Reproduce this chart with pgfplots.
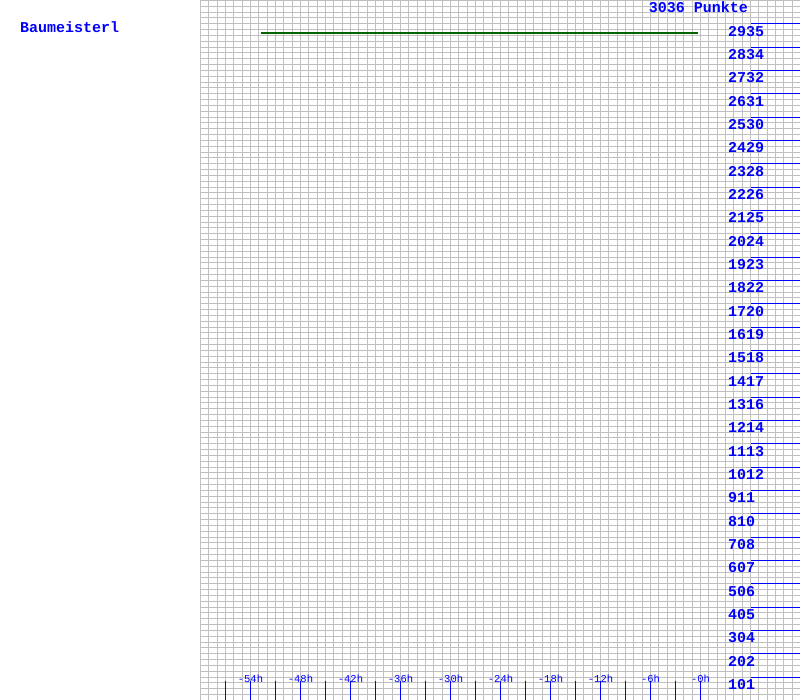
\documentclass[border=0pt]{standalone}
\usepackage{fontspec}
\setmainfont{Liberation Mono}
\usepackage{pgfplots}
\pgfplotsset{compat=1.18}
\definecolor{gridgray}{RGB}{192,192,192}
\definecolor{lbl}{RGB}{0,0,255}
\definecolor{dgreen}{RGB}{0,100,0}
\begin{document}
\begin{tikzpicture}
% grid and data axis
\begin{axis}[
  at={(0.5bp,-0.5bp)}, anchor=south west,
  scale only axis, width=600bp, height=700bp,
  xmin=-60, xmax=12, ymin=0, ymax=3036,
  axis line style={draw=none},
  xtick={-60,-59,...,12},
  ytick={0,25.3,...,3036},
  xticklabels={}, yticklabels={},
  major tick length=0pt,
  tick style={draw=none},
  xmajorgrids=true, ymajorgrids=true,
  major grid style={gridgray, line width=1bp},
]
\addplot[dgreen, line width=2bp] coordinates {(-52.7,2893) (-0.25,2893)};
\node[font=\fontsize{15bp}{17bp}\selectfont\bfseries, text=lbl, anchor=base, inner sep=0pt, xshift=-2bp, yshift=-11.7bp] at (axis cs:0,3036) {3036 Punkte};
\end{axis}
% x tick marks and labels (bottom strip)
\begin{axis}[
  at={(0.5bp,-0.5bp)}, anchor=south west,
  scale only axis, width=600bp, height=20bp,
  xmin=-60, xmax=12, ymin=0, ymax=1,
  axis line style={draw=none},
  xtick={-57,-54,...,0},
  xticklabels={,-54h,,-48h,,-42h,,-36h,,-30h,,-24h,,-18h,,-12h,,-6h,,-0h},
  ytick=\empty,
  major tick length=0pt,
  tick style={draw=none},
  xmajorgrids=true,
  major grid style={lbl, line width=1bp},
  xticklabel style={font=\fontsize{10.5bp}{12bp}\selectfont, text=lbl, anchor=base, inner sep=0pt, yshift=18bp},
]
\end{axis}
% y tick marks and labels (right strip)
\begin{axis}[
  at={(550.5bp,-0.5bp)}, anchor=south west,
  scale only axis, width=50bp, height=700bp,
  xmin=0, xmax=1, ymin=0, ymax=3036,
  axis line style={draw=none},
  xtick=\empty,
  ytick pos=right, yticklabel pos=right,
  ytick={101.2,202.4,303.6,404.8,506,607.2,708.4,809.6,910.8,1012,1113.2,1214.4,1315.6,1416.8,1518,1619.2,1720.4,1821.6,1922.8,2024,2125.2,2226.4,2327.6,2428.8,2530,2631.2,2732.4,2833.6,2934.8},
  yticklabels={101,202,304,405,506,607,708,810,911,1012,1113,1214,1316,1417,1518,1619,1720,1822,1923,2024,2125,2226,2328,2429,2530,2631,2732,2834,2935},
  major tick length=0pt,
  tick style={draw=none},
  ymajorgrids=true,
  major grid style={lbl, line width=1bp},
  yticklabel style={font=\fontsize{15bp}{17bp}\selectfont\bfseries, text=lbl, anchor=base west, inner sep=0pt, xshift=-72.5bp, yshift=-12.2bp},
]
\end{axis}
\node[font=\fontsize{15bp}{17bp}\selectfont\bfseries, text=lbl, anchor=base west, inner sep=0pt] at (-180bp,667bp) {Baumeisterl};
\pgfresetboundingbox
\path[use as bounding box] (-200bp,0bp) rectangle (600bp,700bp);
\end{tikzpicture}
\end{document}
